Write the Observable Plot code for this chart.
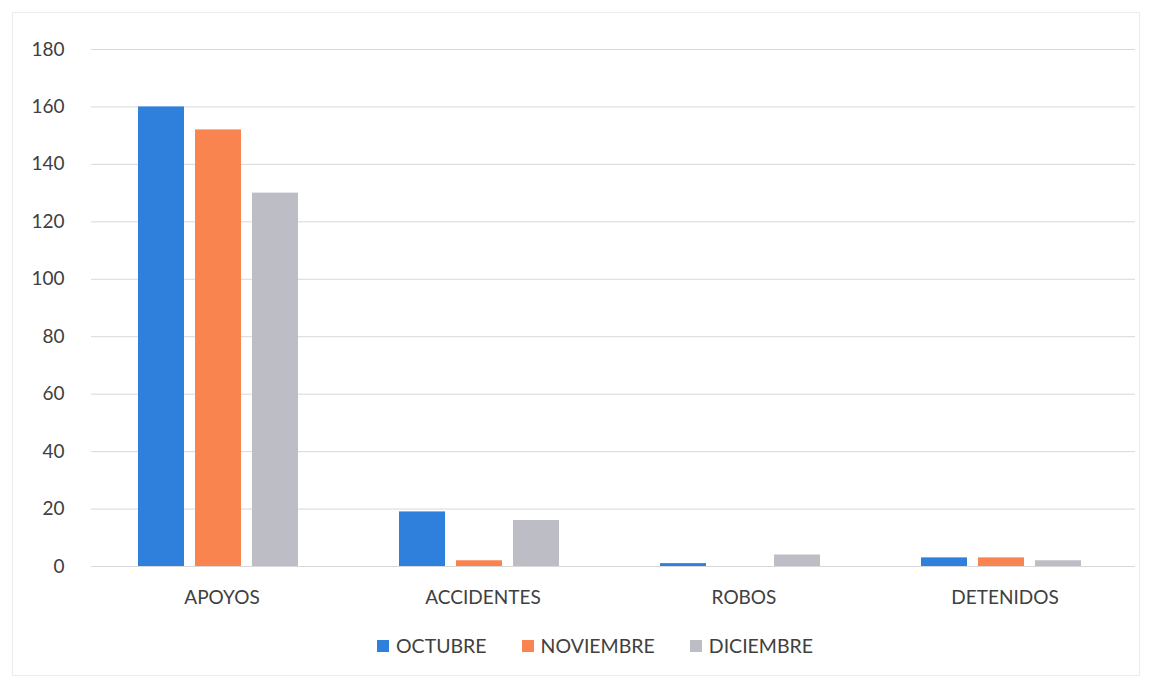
<!DOCTYPE html>
<html>
<head>
<meta charset="utf-8">
<script src="https://cdn.jsdelivr.net/npm/d3@7"></script>
<script src="https://cdn.jsdelivr.net/npm/@observablehq/plot@0.6"></script>
<style>
  html, body { margin: 0; padding: 0; background: #fff; }
  body { width: 1155px; height: 681px; position: relative; overflow: hidden; font-family: Lato, "Open Sans", sans-serif; }
  #frame { position: absolute; left: 12px; top: 12px; width: 1128px; height: 664px; border: 1px solid #ececec; box-sizing: border-box; }
  #chart { position: absolute; left: 0; top: 0; }
  #legend { position: absolute; left: 377px; top: 634px; display: flex; gap: 35px; font-size: 19.5px; color: #404040; }
  #legend .item { display: flex; align-items: center; gap: 7px; }
  #legend .sw { width: 12px; height: 12px; display: inline-block; }
</style>
</head>
<body>
<div id="frame"></div>
<div id="chart"></div>
<div id="legend"></div>
<script>
const categories = ["APOYOS", "ACCIDENTES", "ROBOS", "DETENIDOS"];
const months = ["OCTUBRE", "NOVIEMBRE", "DICIEMBRE"];
const octubre = [160, 19, 1, 3];
const noviembre = [152, 2, 0, 3];
const diciembre = [130, 16, 4, 2];
const yTicks = [0, 20, 40, 60, 80, 100, 120, 140, 160, 180];
const colors = ["#2f7fdc", "#fa8450", "#bdbdc6"];

const series = [octubre, noviembre, diciembre];
const data = [];
categories.forEach((c, i) => {
  months.forEach((m, j) => data.push({category: c, month: m, value: series[j][i]}));
});

const plot = Plot.plot({
  width: 1155,
  height: 615,
  marginTop: 49,
  marginBottom: 49,
  marginLeft: 90,
  marginRight: 20,
  style: {fontFamily: "Lato, 'Open Sans', sans-serif", fontSize: "19px", color: "#404040", background: "transparent"},
  fx: {domain: categories, padding: 0, label: null, axis: null},
  x: {domain: months, paddingInner: 0.2, paddingOuter: 0.87, align: 0.46, axis: null},
  y: {domain: [0, 180], ticks: yTicks, label: null, grid: false, axis: null},
  color: {domain: months, range: colors},
  marks: [
    Plot.gridY(yTicks, {stroke: "#d8d8d8", strokeOpacity: 1, strokeWidth: 1}),
    Plot.barY(data, {fx: "category", x: "month", y: "value", fill: "month"}),
    Plot.axisY({ticks: yTicks, tickSize: 0, tickPadding: 27, label: null, fontSize: 19, fill: "#404040"}),
    Plot.axisFx({domain: categories, anchor: "bottom", tickSize: 0, tickPadding: 24, label: null, fontSize: 19, fill: "#404040"})
  ]
});
document.getElementById("chart").appendChild(plot);

const legend = document.getElementById("legend");
months.forEach((m, i) => {
  const item = document.createElement("div");
  item.className = "item";
  const sw = document.createElement("span");
  sw.className = "sw";
  sw.style.background = colors[i];
  const t = document.createElement("span");
  t.textContent = m;
  item.appendChild(sw);
  item.appendChild(t);
  legend.appendChild(item);
});
</script>
</body>
</html>
